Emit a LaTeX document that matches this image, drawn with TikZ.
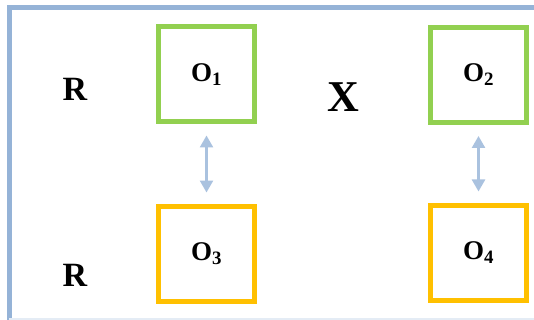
\documentclass[tikz,border=0pt]{standalone}
\usepackage{fontspec}
\setmainfont{Liberation Serif}
\usetikzlibrary{positioning}
\usetikzlibrary{arrows.meta}
\definecolor{frameblue}{HTML}{95B3D7}
\definecolor{boxgreen}{HTML}{92D050}
\definecolor{boxorange}{HTML}{FFC000}

\begin{document}
\begin{tikzpicture}[
    x=1pt, y=-1pt,
    %% ── Node styles ─────────────────────────────────────────────
    topbox/.style={draw=boxgreen, line width=5pt,
                   minimum width=96pt, minimum height=95pt,
                   font=\fontsize{27}{29}\selectfont\bfseries},
    botbox/.style={draw=boxorange, line width=5pt,
                   minimum width=96pt, minimum height=95pt,
                   font=\fontsize{27}{29}\selectfont\bfseries},
    rel/.style   ={inner sep=0pt, font=\fontsize{34}{36}\selectfont\bfseries},
    prod/.style  ={inner sep=0pt, font=\fontsize{44}{46}\selectfont\bfseries},
    arr/.style   ={{Triangle[width=13pt,length=12pt]}-{Triangle[width=13pt,length=12pt]},
                   line width=2.5pt, color=frameblue!80,
                   shorten >=11pt, shorten <=11pt}
]
    \useasboundingbox (0,0) rectangle (534,320);

    %% ── Frame ───────────────────────────────────────────────────
    \draw[frameblue, line width=5pt] (534,7.5) -- (9,7.5) -- (9,320);
    \draw[frameblue!25, line width=2pt] (9,319) -- (534,319);

    %% ── Nodes ──────────────────────────────────────────────────
    \node[topbox] (o1) at (206.5, 74.5) {O\textsubscript{1}};
    \node[topbox] (o2) at (478.5, 75  ) {O\textsubscript{2}};
    \node[botbox] (o3) at (206.5, 253.5) {O\textsubscript{3}};
    \node[botbox] (o4) at (478.5, 252.5) {O\textsubscript{4}};

    \node[rel]  (r1) at (75,  89.5) {R};
    \node[rel]  (r2) at (75, 275.5) {R};
    \node[prod] (x)  at (343, 97.5) {X};

    %% ── Arrows ──────────────────────────────────────────────────
    \draw[arr] (o1.south) -- (o3.north);
    \draw[arr] (o2.south) -- (o4.north);

\end{tikzpicture}
\end{document}
